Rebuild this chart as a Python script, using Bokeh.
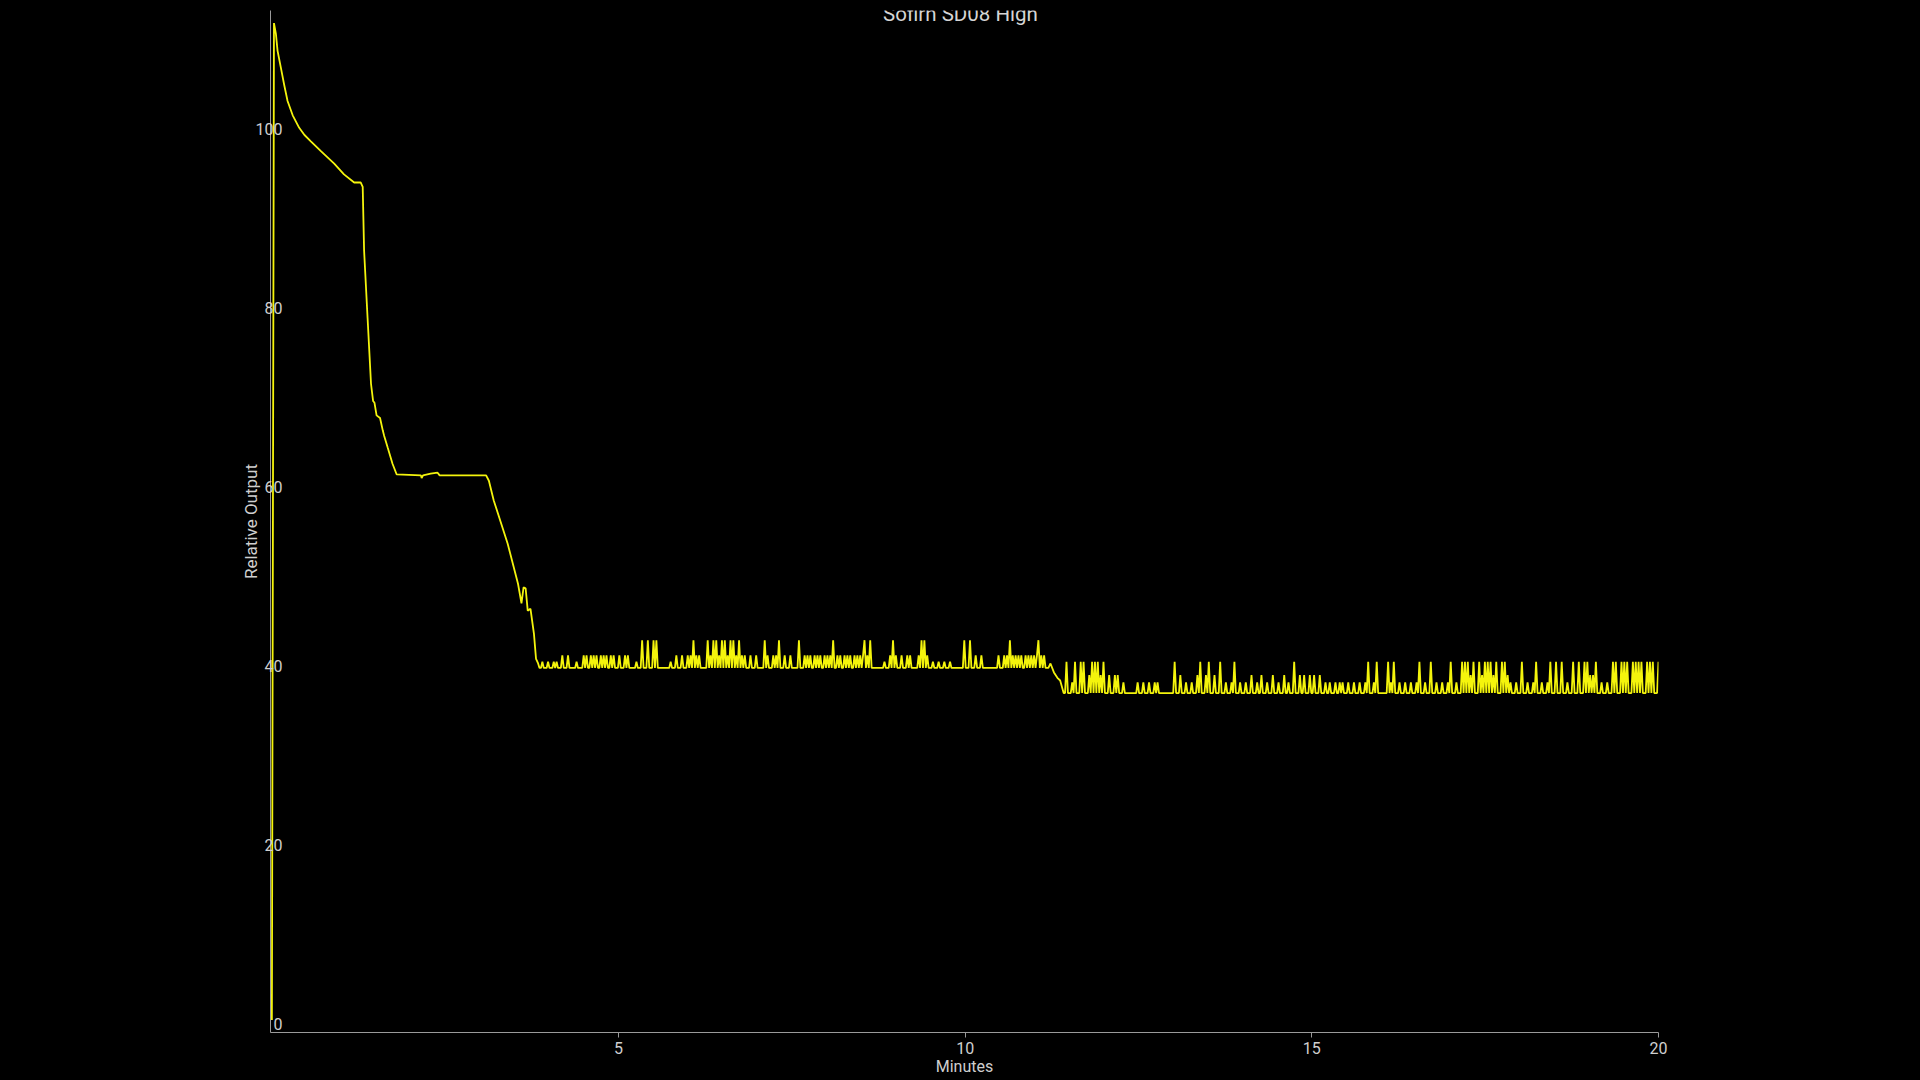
import numpy as np
from bokeh.plotting import figure
from bokeh.models import Range1d, FixedTicker, Label
from bokeh.embed import file_html
from bokeh.resources import INLINE

title_text = "Sofirn SD08 High"
x_label = "Minutes"
y_label = "Relative Output"
x_ticks = [5, 10, 15, 20]
y_ticks = [0, 20, 40, 60, 80, 100]

# ramp-up, decay and step-downs (minutes, relative output)
head_t = [0.0, 0.03, 0.058, 0.082, 0.13, 0.18, 0.226, 0.30, 0.394, 0.47, 0.562,
          0.707, 0.899, 1.04, 1.187, 1.28, 1.31, 1.33, 1.38, 1.43, 1.46, 1.48,
          1.51, 1.56, 1.60, 1.62, 1.67, 1.74, 1.80, 2.15, 2.16, 2.18, 2.29, 2.39,
          2.42, 3.09, 3.13, 3.19, 3.20, 3.40, 3.55, 3.60, 3.63, 3.66, 3.69, 3.73,
          3.78, 3.81, 3.84]
head_y = [0.5, 111.8, 110.6, 108.7, 106.8, 104.8, 103.1, 101.5, 100.1, 99.3, 98.6,
          97.5, 96.1, 94.9, 94.0, 94.0, 93.5, 86.4, 78.9, 71.5, 69.6, 69.4,
          68.0, 67.7, 66.3, 65.7, 64.4, 62.6, 61.4, 61.3, 61.0, 61.3, 61.5, 61.6,
          61.3, 61.3, 60.7, 58.8, 58.5, 53.7, 49.2, 47.0, 48.8, 48.7, 46.2, 46.4,
          43.6, 40.8, 40.3]

# first regulated phase: evenly spaced samples, written as level codes
phase1_start, phase1_end = 3.86, 11.20
phase1_levels = [39.8, 40.5, 41.2, 42.9]
phase1_codes = (
    "0010001000101000" "200020" "00001000" "0202002020200202020020"
    "200020002020" "00001000" "30003000303000" "00000010002000" "20002020"
    "3020" "200000" "3020" "30302030302030302030" "2020002000200000" "30"
    "20002020" "30" "002000200000" "3000"
    "20202002020200202020" "30" "02020020202002020202" "302030"
    "00000000100020" "30" "20002000202000" "0020" "3030"
    "200010001000100010" "000000" "00300030" "002000200000" "0000"
    "00200020203020" "2020200202020202" "30" "202000"
)

# transition between the two phases
mid_t = [11.23, 11.28, 11.33, 11.37]
mid_y = [40.3, 39.3, 38.7, 38.4]

# second regulated phase
phase2_start, phase2_end = 11.42, 20.0
phase2_levels = [37.0, 38.2, 39.0, 40.5]
phase2_codes = (
    "0030" "001030" "0030" "30" "00203030302030" "00" "20002020001000" "000000"
    "1000100010001010" "0000000000" "30" "00200010001000" "20" "30" "0020" "30"
    "002000" "30" "00100010" "30" "00100010"
    "00200010020001000200010002001000" "30"
    "00200200020020002000100100010010"
    "100010001000100010" "30" "0010" "30" "000000" "30" "10" "30"
    "0010001000100010" "30" "001000" "30" "001000100010" "30" "001000"
    "3030302030003020303030203000303020" "10001000" "30" "00100010" "30"
    "00100010" "3000300030" "001000" "300030003030" "2020" "30" "0010001000"
    "30300030303000303030" "3000303030003"
)

t = list(head_t)
y = list(head_y)
t += list(np.linspace(phase1_start, phase1_end, len(phase1_codes)))
y += [phase1_levels[int(c)] for c in phase1_codes]
t += mid_t
y += mid_y
t += list(np.linspace(phase2_start, phase2_end, len(phase2_codes)))
y += [phase2_levels[int(c)] for c in phase2_codes]

axis_col = "#9a9a9a"
text_col = "#cfcfcf"
line_col = "#f4f40c"

p = figure(width=1920, height=1080,
           x_range=Range1d(-0.02, 20), y_range=Range1d(-0.9, 113.2),
           output_backend="svg", toolbar_location=None,
           background_fill_color="black", border_fill_color=None,
           min_border_left=270, min_border_right=262,
           min_border_top=10, min_border_bottom=48)
p.outline_line_color = None
p.grid.visible = False

p.line(t, y, line_color=line_col, line_width=1.8)

xa = p.xaxis[0]
xa.ticker = FixedTicker(ticks=x_ticks)
xa.axis_label = x_label
xa.major_tick_in = 0
xa.major_tick_out = 5
xa.minor_tick_line_color = None
xa.axis_line_color = axis_col
xa.major_tick_line_color = axis_col
xa.major_label_text_color = text_col
xa.major_label_text_font = "Roboto"
xa.major_label_text_font_size = "16px"
xa.major_label_standoff = 4
xa.axis_label_text_color = text_col
xa.axis_label_text_font = "Roboto"
xa.axis_label_text_font_size = "16px"
xa.axis_label_text_font_style = "normal"
xa.axis_label_standoff = 0

ya = p.yaxis[0]
ya.ticker = FixedTicker(ticks=y_ticks)
ya.axis_label = y_label
ya.major_tick_in = 0
ya.major_tick_out = 0
ya.minor_tick_line_color = None
ya.axis_line_color = axis_col
ya.major_tick_line_color = None
ya.major_label_text_color = text_col
ya.major_label_text_font = "Roboto"
ya.major_label_text_font_size = "16px"
ya.major_label_standoff = -12
ya.axis_label_text_color = text_col
ya.axis_label_text_font = "Roboto"
ya.axis_label_text_font_size = "17px"
ya.axis_label_text_font_style = "normal"
ya.axis_label_standoff = -8

p.add_layout(Label(x=9.932, y=112.81, text=title_text, text_align="center",
                   text_baseline="middle", text_color="#d5d5d5",
                   text_font="Roboto", text_font_size="20.5px"))

html = file_html(p, INLINE)
page_style = "<style>html, body { background-color: #000000 !important; margin: 0 !important; overflow: hidden; }</style>"
html = html.replace("</head>", page_style + "\n</head>", 1)
open("out.html", "w").write(html)
